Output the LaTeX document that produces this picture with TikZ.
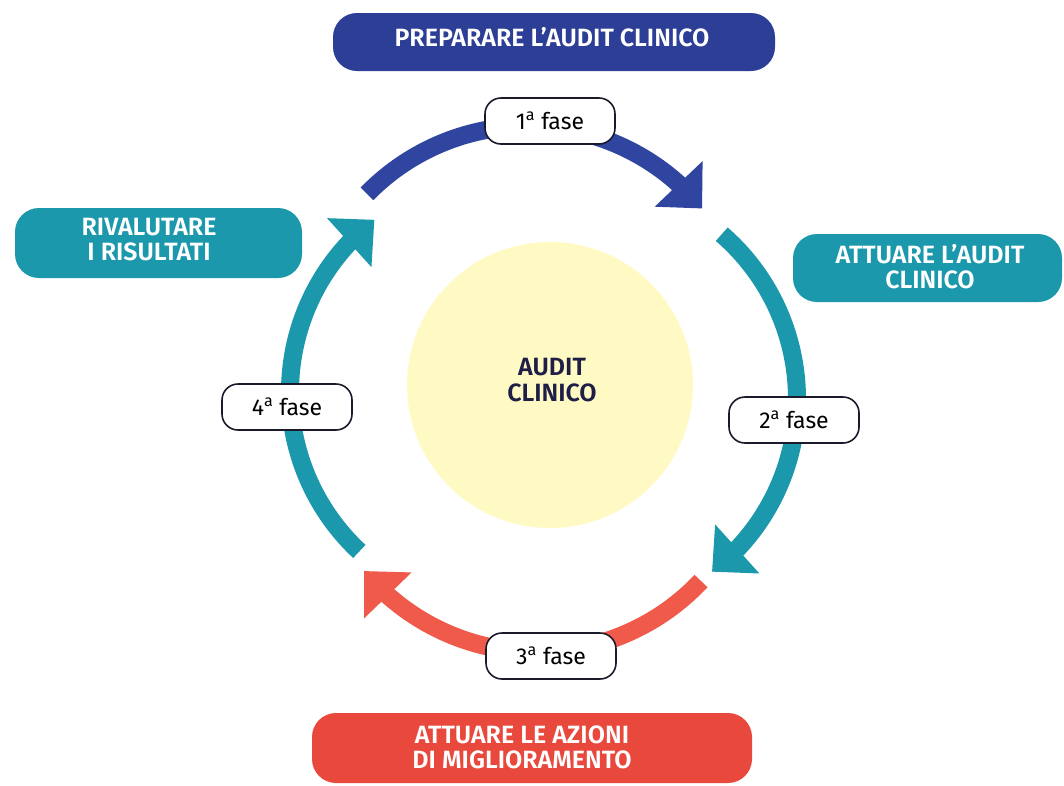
\documentclass[tikz,border=0pt]{standalone}
\usepackage{fontspec}
\usetikzlibrary{arrows.meta,bending}
\newfontfamily\ttlfont{Fira Sans}[BoldFont={* SemiBold}]
\newfontfamily\phfont{Fira Sans}
\definecolor{navy}{HTML}{2C3E96}
\definecolor{bluearc}{HTML}{2F45A0}
\definecolor{teal}{HTML}{1C98AC}
\definecolor{redbox}{HTML}{E9483C}
\definecolor{redarc}{HTML}{F05A4B}
\definecolor{core}{HTML}{FFFAC4}
\definecolor{coretext}{HTML}{1E1E46}
\definecolor{phaseline}{HTML}{1A1A2A}
\begin{document}
\begin{tikzpicture}[x=1pt,y=-1pt,
  title/.style={font=\ttlfont\bfseries\fontsize{25}{25}\selectfont, text=white, align=center, inner sep=0pt},
  labelbox/.style={rounded corners=24pt, draw=none, inner sep=0pt},
  phase/.style={draw=phaseline, line width=1.6pt, fill=white, rounded corners=16pt,
    minimum width=130pt, minimum height=46pt, inner sep=0pt,
    font=\phfont\fontsize{23}{26}\selectfont},
  ring/.style={line width=18pt},
  arr/.style={-{Triangle[width=64pt,length=34pt]}}
]
\useasboundingbox (0,0) rectangle (1064,785);
\fill[white] (0,0) rectangle (1064,785);

% centre
\node[circle, fill=core, minimum size=286pt, inner sep=0pt] (coreC) at (550,385) {};
\node[font=\ttlfont\bfseries\fontsize{25}{26}\selectfont, text=coretext, align=center, inner sep=0pt] (coreT) at (552,380) {AUDIT\\CLINICO};

% ring arcs (each its own circle)
\coordinate (cB) at (528,351);
\coordinate (cR) at (579,399);
\coordinate (cD) at (537,427);
\coordinate (cL) at (508,392);
\draw[ring, bluearc, arr] ([shift={(-135.7:225)}]cB) arc[start angle=-135.7, end angle=-39.3, radius=225];
\draw[ring, teal, arr] ([shift={(-49.1:218)}]cR) arc[start angle=-49.1, end angle=52.4, radius=218];
\draw[ring, redarc, arr] ([shift={(43.2:225)}]cD) arc[start angle=43.2, end angle=140.2, radius=225];
\draw[ring, teal, arr] ([shift={(133:218)}]cL) arc[start angle=133, end angle=232.2, radius=218];

% phase labels
\node[phase] (f1) at (550,121) {1\textsuperscript{a} fase};
\node[phase] (f2) at (794,420) {2\textsuperscript{a} fase};
\node[phase] (f3) at (551,656) {3\textsuperscript{a} fase};
\node[phase] (f4) at (287,407) {4\textsuperscript{a} fase};

% step boxes
\node[labelbox, fill=navy, minimum width=442pt, minimum height=58pt] (prepB) at (554,42) {};
\node[title] (prepT) at (552,37) {PREPARARE L’AUDIT CLINICO};

\node[labelbox, fill=teal, minimum width=269pt, minimum height=68pt] (attB) at (927.5,268) {};
\node[title] (attT) at (930,267) {ATTUARE L’AUDIT\\CLINICO};

\node[labelbox, fill=teal, minimum width=287pt, minimum height=70pt] (rivB) at (158.5,243) {};
\node[title] (rivT) at (149,240) {RIVALUTARE\\I RISULTATI};

\node[labelbox, fill=redbox, minimum width=440pt, minimum height=70pt] (azB) at (532,748) {};
\node[title] (azT) at (522,747) {ATTUARE LE AZIONI\\DI MIGLIORAMENTO};
\end{tikzpicture}
\end{document}
